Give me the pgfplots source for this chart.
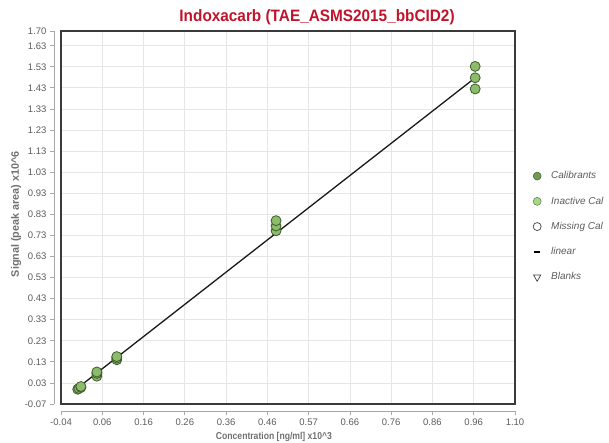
\documentclass[border=0pt]{standalone}
\usepackage{pgfplots}
\pgfplotsset{compat=1.18}
\usepackage{fontspec}
\setmainfont{Liberation Sans}
\newfontfamily\condfont[FakeStretch=0.86]{Liberation Sans}
\newfontfamily\titlefont[FakeStretch=0.93]{Liberation Sans}
\definecolor{titlered}{HTML}{C0142C}
\definecolor{ticklab}{HTML}{5C5C5C}
\definecolor{axlab}{HTML}{707070}
\definecolor{gridc}{HTML}{E6E6E6}
\definecolor{framec}{HTML}{3A3A3A}
\definecolor{axisline}{HTML}{A8A8A8}
\definecolor{calfill}{HTML}{8CBC6A}
\definecolor{caledge}{HTML}{3E5C2E}
\definecolor{legcal}{HTML}{6F9B57}
\definecolor{leginact}{HTML}{A6D886}

\pgfplotstableread{
x y
0.002 0.000
0.005 0.004
0.010 0.009
0.010 0.013
0.050 0.062
0.050 0.075
0.050 0.082
0.100 0.140
0.100 0.148
0.100 0.155
0.500 0.752
0.500 0.775
0.500 0.800
1.000 1.425
1.000 1.478
1.000 1.532
}\calibrants

\pgfplotstableread{
x y
-0.005 -0.004
1.000 1.478
}\linearfit

\begin{document}
\begin{tikzpicture}[x=1pt,y=1pt]
\useasboundingbox (-61,-38) rectangle (548,404);
\begin{axis}[
  at={(0,0)}, anchor=south west,
  scale only axis, width=454pt, height=373pt,
  xmin=-0.04, xmax=1.10, ymin=-0.07, ymax=1.70,
  axis x line=bottom, axis y line=left,
  axis x line shift=7pt, axis y line shift=7pt,
  axis line style={axisline, line width=0.8pt, -},
  xtick={-0.04,0.063636,0.167273,0.270909,0.374545,0.478182,0.581818,0.685455,0.789091,0.892727,0.996364,1.10},
  xticklabels={-0.04,0.06,0.16,0.26,0.36,0.46,0.57,0.66,0.76,0.86,0.96,1.10},
  ytick={-0.07,0.03,0.13,0.23,0.33,0.43,0.53,0.63,0.73,0.83,0.93,1.03,1.13,1.23,1.33,1.43,1.53,1.63,1.70},
  yticklabels={-0.07,0.03,0.13,0.23,0.33,0.43,0.53,0.63,0.73,0.83,0.93,1.03,1.13,1.23,1.33,1.43,1.53,1.63,1.70},
  grid=major, major grid style={gridc, line width=0.8pt},
  tick align=outside, major tick length=4pt,
  tick style={axisline, line width=0.8pt},
  ticklabel style={font=\fontsize{9.5}{10}\selectfont, text=ticklab},
  xlabel={Concentration [ng/ml] x10\^{}3},
  ylabel={Signal (peak area) x10\^{}6},
  every axis x label/.style={at={(axis description cs:0.469,0)}, anchor=center, yshift=-33pt,
    font=\condfont\bfseries\fontsize{10}{11}\selectfont, text=axlab},
  every axis y label/.style={at={(axis description cs:-0.099,0.509)}, anchor=center, rotate=90,
    font=\bfseries\fontsize{10.8}{12}\selectfont, text=axlab},
  title={Indoxacarb (TAE\_ASMS2015\_bbCID2)},
  every axis title/.style={at={(axis description cs:0.564,1)}, anchor=center, yshift=14pt,
    font=\titlefont\bfseries\fontsize{16.5}{18}\selectfont, text=titlered},
  legend style={draw=none, fill=none, at={(axis description cs:1.0396,0.626)}, anchor=north west,
    inner sep=0pt, font=\itshape\fontsize{10}{11}\selectfont, text=ticklab, row sep=14.5pt,
    nodes={inner sep=1pt},
    /tikz/every odd column/.append style={column sep=9pt}},
  legend cell align=left,
  clip=false,
]
\addlegendimage{only marks, mark=*, mark size=4pt, mark options={fill=legcal, draw=legcal!60!black, line width=0.5pt}}
\addlegendentry{Calibrants}
\addlegendimage{only marks, mark=*, mark size=4pt, mark options={fill=leginact, draw=leginact!55!black, line width=0.5pt}}
\addlegendentry{Inactive Cal}
\addlegendimage{only marks, mark=o, mark size=4pt, mark options={draw=black!75, line width=0.7pt}}
\addlegendentry{Missing Cal}
\addlegendimage{legend image code/.code={\draw[black, line width=2pt] (0.2cm,0) -- (0.4cm,0);}}
\addlegendentry{linear}
\addlegendimage{only marks, mark=triangle, mark size=4.2pt, mark options={draw=black!75, line width=0.7pt, rotate=180}}
\addlegendentry{Blanks}

\addplot[forget plot, black!90, line width=1.3pt] table[x=x, y=y] {\linearfit};
\addplot[forget plot, only marks, mark=*, mark size=5pt,
  mark options={fill=calfill, draw=caledge, line width=0.8pt}] table[x=x, y=y] {\calibrants};
\draw[framec, line width=1.6pt] (rel axis cs:0,0) rectangle (rel axis cs:1,1);
\end{axis}
\end{tikzpicture}
\end{document}
